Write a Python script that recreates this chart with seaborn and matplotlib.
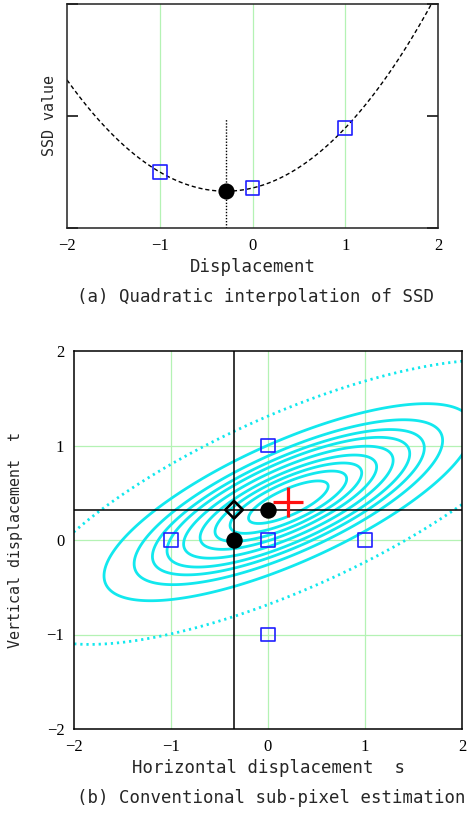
import numpy as np
import matplotlib
matplotlib.use("Agg")
import matplotlib.pyplot as plt
import seaborn as sns

# ---------------- data: panel (a) ----------------
disp_samples = [-1.0, 0.0, 1.0]
ssd_samples = [0.50, 0.357, 0.893]
vline_top = 0.98
xticks_a = [-2, -1, 0, 1, 2]
yticks_a = [0, 1, 2]

# ---------------- data: panel (b) ----------------
grid_s = [-1, 0, 1, 0, 0]
grid_t = [0, 0, 0, 1, -1]
conv_s = [-0.35, 0.0]          # 1-D estimates placed on axes
conv_t = [0.0, 0.32]
est_s = [-0.35]                 # conventional combined estimate (diamond)
est_t = [0.32]
true_s = [0.21]                 # true minimum (red cross)
true_t = [0.40]
quad_A, quad_B, quad_C = 0.301, -0.41, 1.0   # SSD surface coefficients
solid_levels = [0.0224, 0.048, 0.076, 0.110, 0.155, 0.208, 0.261, 0.336, 0.480]
dotted_levels = [1.0]
ticks_b = [-2, -1, 0, 1, 2]

# ---------------- style ----------------
sns.set_theme(style="white")
plt.rcParams["axes.unicode_minus"] = True
MONO = "DejaVu Sans Mono"
SERIF = "Liberation Serif"
BLUE = "#1f1fff"
CYAN = "#12e8ee"
GRID = "#b4f2b4"

W, H = 468, 814
fig = plt.figure(figsize=(W / 100, H / 100), dpi=100)

def px_axes(l, t, r, b):
    return fig.add_axes([l / W, 1 - b / H, (r - l) / W, (b - t) / H])

# ================= panel (a) =================
ax1 = px_axes(67, 4, 438, 228)
ax1.set_xlim(-2, 2)
ax1.set_ylim(0, 2)
for x in [-1, 0, 1]:
    ax1.axvline(x, color=GRID, lw=0.9, zorder=0)

coef = np.polyfit(disp_samples, ssd_samples, 2)
xs = np.linspace(-2, 2, 400)
ys = np.polyval(coef, xs)
sns.lineplot(x=xs, y=ys, ax=ax1, color="black", lw=1.0,
             linestyle=(0, (3, 2)), sort=False, estimator=None, zorder=2)
x_min = -coef[1] / (2 * coef[0])
y_min = np.polyval(coef, x_min)
ax1.plot([x_min, x_min], [0, vline_top], color="black", lw=1.0,
         linestyle=(0, (1, 1.2)), zorder=2)
sns.scatterplot(x=disp_samples, y=ssd_samples, ax=ax1, marker="s", s=95,
                color=BLUE, facecolor="none", edgecolor=BLUE, linewidth=1.2,
                zorder=4)
sns.scatterplot(x=[x_min], y=[y_min], ax=ax1, marker="o", s=135,
                color="black", edgecolor="black", linewidth=0, zorder=5)

ax1.set_xticks(xticks_a)
ax1.set_xticklabels([f"{v}".replace("-", "\u2212") for v in xticks_a],
                    fontfamily=SERIF, fontsize=12)
ax1.set_yticks(yticks_a)
ax1.set_yticklabels([])
ax1.tick_params(axis="x", length=0, pad=7, colors="black")
ax1.tick_params(axis="y", direction="in", length=8, width=1.1,
                left=True, right=True, color="black")
for sp in ax1.spines.values():
    sp.set_color("#222222")
    sp.set_linewidth(1.1)
ax1.set_xlabel("Displacement", fontfamily=MONO, fontsize=12.5, va="center")
ax1.xaxis.set_label_coords(0.5, -0.173)
ax1.set_ylabel("SSD value", fontfamily=MONO, fontsize=10.8, va="center")
ax1.yaxis.set_label_coords(-0.0485, 0.5)
ax1.text(0.509, -0.307, "(a) Quadratic interpolation of SSD",
         transform=ax1.transAxes, ha="center", va="center",
         fontfamily=MONO, fontsize=12.5)

# ================= panel (b) =================
ax2 = px_axes(74, 351, 462, 729)
ax2.set_xlim(-2, 2)
ax2.set_ylim(-2, 2)
for v in [-1, 0, 1]:
    ax2.axvline(v, color=GRID, lw=0.9, zorder=0)
    ax2.axhline(v, color=GRID, lw=0.9, zorder=0)

gs = np.linspace(-2.05, 2.05, 500)
S, T = np.meshgrid(gs, gs)
dS = S - true_s[0]
dT = T - true_t[0]
F = quad_A * dS ** 2 + 2 * quad_B * dS * dT + quad_C * dT ** 2
ax2.contour(S, T, F, levels=solid_levels, colors=CYAN, linewidths=2.0,
            zorder=1)
ax2.contour(S, T, F, levels=dotted_levels, colors=CYAN, linewidths=2.0,
            linestyles=[(0, (0.8, 1.4))], zorder=1)

ax2.axvline(est_s[0], color="black", lw=1.1, zorder=2)
ax2.axhline(est_t[0], color="black", lw=1.1, zorder=2)

sns.scatterplot(x=grid_s, y=grid_t, ax=ax2, marker="s", s=95,
                color=BLUE, facecolor="none", edgecolor=BLUE, linewidth=1.2,
                zorder=4)
sns.scatterplot(x=conv_s, y=conv_t, ax=ax2, marker="o", s=140,
                color="black", edgecolor="black", linewidth=0, zorder=5)
sns.scatterplot(x=est_s, y=est_t, ax=ax2, marker="D", s=80,
                color="black", facecolor="none", edgecolor="black",
                linewidth=1.9, zorder=6)
sns.scatterplot(x=true_s, y=true_t, ax=ax2, marker="+", s=470,
                color="#ff1010", linewidth=2.3, zorder=6)

ax2.set_xticks(ticks_b)
ax2.set_yticks(ticks_b)
lab = [f"{v}".replace("-", "\u2212") for v in ticks_b]
ax2.set_xticklabels(lab, fontfamily=SERIF, fontsize=12)
ax2.set_yticklabels(lab, fontfamily=SERIF, fontsize=12)
ax2.tick_params(axis="both", length=0, pad=7, colors="black")
for sp in ax2.spines.values():
    sp.set_color("black")
    sp.set_linewidth(1.1)
ax2.set_xlabel("Horizontal displacement  s", fontfamily=MONO, fontsize=12.5,
               va="center")
ax2.xaxis.set_label_coords(0.5, -0.103)
ax2.set_ylabel("Vertical displacement  t", fontfamily=MONO, fontsize=10.8,
               va="center")
ax2.yaxis.set_label_coords(-0.150, 0.5)
ax2.text(0.508, -0.1825, "(b) Conventional sub-pixel estimation",
         transform=ax2.transAxes, ha="center", va="center",
         fontfamily=MONO, fontsize=12.5)

fig.savefig("out.png", dpi=100)
